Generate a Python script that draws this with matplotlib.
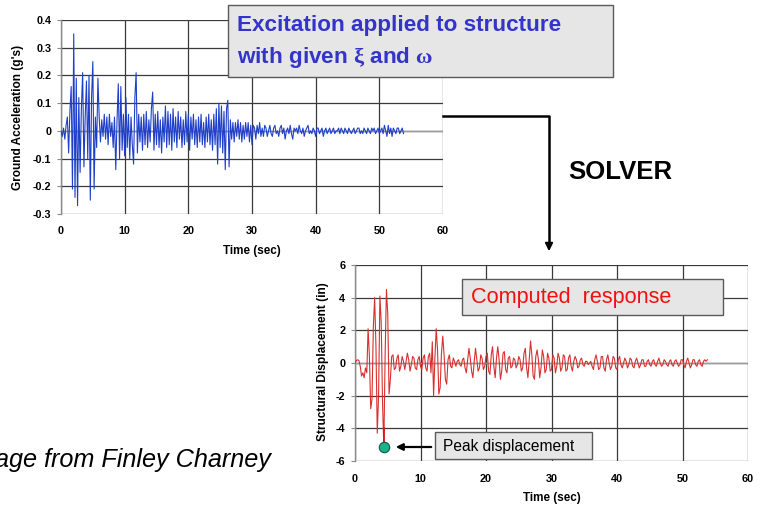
import numpy as np
import matplotlib
matplotlib.use("Agg")
import matplotlib.pyplot as plt
from matplotlib.patches import Rectangle, FancyArrowPatch
from matplotlib.lines import Line2D

plt.rcParams['font.family'] = ['Liberation Sans', 'DejaVu Sans']
plt.rcParams['axes.unicode_minus'] = False
plt.rcParams['mathtext.fontset'] = 'custom'
plt.rcParams['mathtext.rm'] = 'Liberation Serif:bold'
plt.rcParams['mathtext.it'] = 'Liberation Serif:italic'
plt.rcParams['mathtext.bf'] = 'Liberation Serif:bold'

# ---------------- data ----------------
accel_dt = 0.2   # s, samples from t=0 to 53.8
ground_accel = [
    0.0, -0.02, 0.01, -0.03, 0.02, 0.05, -0.08, 0.07, 0.16, -0.21,
    0.35, -0.24, 0.19, -0.27, 0.12, -0.15, 0.08, 0.21, -0.13, 0.05,
    0.18, -0.10, 0.20, -0.25, 0.12, 0.25, -0.21, 0.05, -0.06, 0.19,
    0.05, -0.04, 0.04, -0.02, 0.06, -0.03, 0.05, -0.05, 0.06, -0.02,
    0.03, -0.06, 0.05, -0.14, 0.04, 0.17, -0.10, 0.16, -0.07, 0.06,
    -0.09, 0.12, -0.06, 0.06, -0.10, 0.05, -0.05, -0.12, 0.12, 0.21,
    -0.08, 0.06, -0.04, 0.05, -0.07, 0.06, -0.05, 0.07, -0.06, 0.04,
    -0.04, 0.08, 0.14, -0.07, 0.06, -0.05, 0.07, -0.06, 0.04, -0.08,
    0.05, -0.04, 0.09, -0.06, 0.07, -0.05, 0.06, -0.07, 0.08, -0.04,
    0.05, -0.06, 0.07, -0.03, 0.05, -0.06, 0.04, -0.05, 0.07, -0.04,
    0.06, -0.07, 0.05, -0.03, 0.06, -0.05, 0.04, -0.06, 0.05, -0.04,
    0.06, -0.05, 0.03, -0.06, 0.05, -0.04, 0.06, -0.05, 0.04, -0.07,
    0.06, -0.05, 0.08, -0.12, 0.10, -0.06, 0.09, -0.08, 0.07, -0.14,
    0.08, 0.11, -0.13, 0.04, -0.03, 0.03, -0.04, 0.03, -0.02, 0.04,
    -0.03, 0.03, -0.04, 0.02, -0.03, 0.03, -0.02, 0.03, -0.04, 0.02,
    -0.05, 0.02, 0.01, -0.03, 0.02, -0.01, 0.03, -0.02, 0.01, -0.02,
    0.02, 0.01, -0.02, 0.0, 0.02, -0.01, -0.02, 0.01, 0.02, -0.01,
    0.0, -0.02, 0.01, 0.02, -0.01, 0.01, -0.03, 0.0, 0.01, -0.01,
    0.02, -0.01, -0.03, 0.01, 0.0, 0.01, -0.01, 0.02, 0.0, -0.01,
    0.01, -0.02, 0.0, 0.01, 0.02, -0.01, 0.0, -0.01, 0.01, 0.0,
    -0.02, 0.01, 0.01, -0.01, 0.0, 0.01, -0.02, 0.0, 0.01, -0.01,
    0.0, 0.01, -0.01, 0.0, 0.01, -0.01, 0.0, 0.0, 0.01, -0.01,
    0.01, 0.0, -0.01, 0.01, 0.0, -0.01, 0.01, 0.0, -0.01, 0.0,
    0.01, -0.01, 0.0, 0.01, 0.01, -0.01, 0.0, -0.01, 0.01, 0.0,
    -0.01, 0.01, 0.0, -0.01, 0.01, 0.0, 0.01, -0.01, 0.0, 0.01,
    -0.01, 0.0, 0.01, -0.01, 0.02, 0.0, -0.02, 0.02, -0.01, 0.01,
    -0.02, 0.01, 0.0, -0.01, 0.01, 0.01, -0.01, 0.0, 0.01, -0.01,
]

disp_dt = 0.2  # s, samples from t=0 to 53.8
displacement = [
    0.0, 0.15, 0.2, 0.15, -0.2, -0.8, -0.6, -0.9, -0.3, -0.6,
    2.1, 0.4, -2.8, -2.2, 2.2, 4.0, 1.0, -4.3, -2.0, 4.1,
    2.5, -2.4, -5.15, 0.5, 4.5, 3.0, -1.9, -1.0, 0.4, 0.5,
    -0.4, -0.3, 0.3, 0.5, -0.5, -0.2, 0.4, 0.1, -0.4, 0.1,
    0.6, 0.2, -0.5, -0.1, 0.4, 0.3, -0.3, -0.4, 0.2, 0.4,
    -0.2, -0.4, 0.3, 0.5, -0.3, -0.5, 0.4, 0.6, -0.6, 1.3,
    -2.0, 0.3, 2.1, 0.8, -1.9, -1.5, 0.6, 1.65, 0.5, -1.0,
    -1.3, 0.2, 0.5, -0.2, -0.3, 0.3, 0.1, -0.2, 0.1, 0.2,
    -0.1, -0.2, 0.2, 0.3, -0.3, -0.6, 0.2, 0.9, 0.3, -0.5,
    -0.9, 0.1, 0.9, 0.2, -0.5, -0.3, 0.5, 0.3, -0.4, -0.2,
    0.4, 0.6, -0.5, -0.7, 0.5, 1.0, -0.2, -0.9, 0.3, 1.0,
    0.2, -1.0, -0.5, 0.6, 0.7, -0.4, -0.6, 0.3, 0.4, -0.3,
    -0.2, 0.3, 0.2, -0.3, -0.1, 0.4, 0.2, -0.5, -0.3, 0.6,
    0.9, -0.3, -0.9, 0.2, 1.35, 0.5, -0.8, -1.0, 0.4, 0.8,
    0.2, -0.9, -0.3, 0.8, 0.4, -0.6, -0.4, 0.6, 0.3, -0.5,
    -0.4, 0.5, 0.3, -0.6, -0.2, 0.6, 0.3, -0.5, -0.3, 0.5,
    0.4, -0.5, -0.4, 0.3, 0.5, -0.2, -0.5, 0.1, 0.4, 0.2,
    -0.3, -0.2, 0.2, 0.3, -0.1, -0.2, 0.1, 0.1, -0.1, 0.0,
    0.1, -0.2, -0.4, 0.2, 0.5, 0.1, -0.4, -0.3, 0.4, 0.4,
    -0.3, -0.5, 0.2, 0.5, 0.0, -0.4, -0.2, 0.4, 0.3, -0.3,
    -0.4, 0.2, 0.4, -0.1, -0.3, 0.0, 0.3, 0.1, -0.3, -0.1,
    0.3, 0.2, -0.2, -0.3, 0.1, 0.3, 0.0, -0.3, -0.1, 0.2,
    0.2, -0.2, -0.2, 0.1, 0.2, -0.1, -0.2, 0.1, 0.2, -0.1,
    -0.2, 0.1, 0.3, 0.0, -0.2, -0.1, 0.2, 0.1, -0.1, -0.2,
    0.1, 0.2, -0.1, -0.2, 0.1, 0.2, 0.0, -0.2, -0.1, 0.2,
    0.2, -0.1, -0.3, 0.1, 0.3, 0.0, -0.3, -0.1, 0.2, 0.2,
    -0.1, -0.2, 0.1, 0.2, -0.1, -0.2, 0.1, 0.2, 0.1, 0.2,
]
peak_time = 4.4
peak_disp = -5.15

accel_yticks = [-0.3, -0.2, -0.1, 0, 0.1, 0.2, 0.3, 0.4]
accel_yticklabels = ['-0.3', '-0.2', '-0.1', '0', '0.1', '0.2', '0.3', '0.4']
disp_yticks = [-6, -4, -2, 0, 2, 4, 6]
time_ticks = [0, 10, 20, 30, 40, 50, 60]

# ---------------- figure ----------------
W, H = 765, 505
fig = plt.figure(figsize=(W / 100, H / 100), dpi=100)
fig.patch.set_facecolor('white')


def fx(px):
    return px / W


def fy(py):
    return 1 - py / H


def style_axes(ax, ylim, yticks, yticklabels=None):
    ax.set_xlim(0, 60)
    ax.set_ylim(*ylim)
    ax.set_xticks(time_ticks)
    ax.set_yticks(yticks)
    if yticklabels is not None:
        ax.set_yticklabels(yticklabels)
    ax.grid(True, color='#3a3a3a', lw=0.9)
    for s in ['top', 'right', 'bottom']:
        ax.spines[s].set_visible(False)
    ax.spines['left'].set_color('#8a8a8a')
    ax.spines['left'].set_linewidth(1.0)
    ax.tick_params(axis='x', length=0, pad=9, labelsize=7.8)
    ax.tick_params(axis='y', length=3, color='#8a8a8a', pad=4, labelsize=7.8)
    for lab in ax.get_xticklabels() + ax.get_yticklabels():
        lab.set_fontweight('bold')
    ax.axhline(0, color='#9a9a9a', lw=1.0, zorder=1.8)


# top axes: ground acceleration
ax1 = fig.add_axes([fx(61), fy(214), fx(443) - fx(61), fy(20) - fy(214)])
t_acc = np.arange(len(ground_accel)) * accel_dt
ax1.plot(t_acc, ground_accel, color='#1f3fc8', lw=0.8, zorder=3)
style_axes(ax1, (-0.3, 0.4), accel_yticks, accel_yticklabels)

# bottom axes: structural displacement
ax2 = fig.add_axes([fx(355), fy(461), fx(748) - fx(355), fy(265) - fy(461)])
t_disp = np.arange(len(displacement)) * disp_dt
ax2.plot(t_disp, displacement, color='#d83030', lw=0.8, zorder=3)
ax2.plot([peak_time, peak_time], [peak_disp, -4.0], color='#e01010', lw=1.2, zorder=3)
style_axes(ax2, (-6, 6), disp_yticks)
ax2.plot([peak_time], [peak_disp], 'o', ms=7.5, mfc='#19b38a', mec='#0b5a44',
         mew=0.8, zorder=5, clip_on=False)

# axis labels
fig.text(fx(18), fy(117), "Ground Acceleration (g's)", rotation=90, ha='center',
         va='center', fontsize=8.6, fontweight='bold')
fig.text(fx(252), fy(251), "Time (sec)", ha='center', va='center', fontsize=8.4,
         fontweight='bold')
fig.text(fx(323), fy(362), "Structural Displacement (in)", rotation=90, ha='center',
         va='center', fontsize=8.6, fontweight='bold')
fig.text(fx(552), fy(498), "Time (sec)", ha='center', va='center', fontsize=8.4,
         fontweight='bold')

# top callout box
fig.add_artist(Rectangle((fx(228), fy(77)), fx(613) - fx(228), fy(5) - fy(77),
                         transform=fig.transFigure, facecolor='#e6e6e6',
                         edgecolor='#5a5a5a', lw=1.0, zorder=5))
fig.text(fx(237), fy(25), "Excitation applied to structure", ha='left', va='center',
         fontsize=16.2, fontweight='bold', color='#3434c8', zorder=6)
fig.text(fx(237), fy(58), r"with given $\mathrm{\xi}$ and $\mathrm{\omega}$", ha='left',
         va='center', fontsize=16.2, fontweight='bold', color='#3434c8', zorder=6)

# connector and SOLVER
fig.add_artist(Line2D([fx(443), fx(549), fx(549)], [fy(116), fy(116), fy(243)],
                      transform=fig.transFigure, color='black', lw=1.8, zorder=5))
fig.add_artist(FancyArrowPatch((fx(549), fy(240)), (fx(549), fy(254)),
                               transform=fig.transFigure, arrowstyle='-|>',
                               mutation_scale=11, color='black', lw=1.5, zorder=5))
fig.text(fx(620), fy(172), "SOLVER", ha='center', va='center', fontsize=18.5,
         fontweight='bold', color='black')

# computed response box
fig.add_artist(Rectangle((fx(462), fy(315)), fx(723) - fx(462), fy(279) - fy(315),
                         transform=fig.transFigure, facecolor='#e6e6e6',
                         edgecolor='#5a5a5a', lw=1.0, zorder=5))
fig.text(fx(471), fy(297), "Computed  response", ha='left', va='center',
         fontsize=15.6, color='#f01010', zorder=6)

# peak displacement box
fig.add_artist(Rectangle((fx(435), fy(459)), fx(592) - fx(435), fy(432) - fy(459),
                         transform=fig.transFigure, facecolor='#e6e6e6',
                         edgecolor='#5a5a5a', lw=1.0, zorder=5))
fig.text(fx(443), fy(446), "Peak displacement", ha='left', va='center',
         fontsize=11.2, color='black', zorder=6)
fig.add_artist(FancyArrowPatch((fx(434), fy(447)), (fx(393), fy(447)),
                               transform=fig.transFigure, arrowstyle='-|>',
                               mutation_scale=10, color='black', lw=1.6, zorder=6))

# source credit (cut at the left edge, as in the reference slide crop)
fig.text(fx(271), fy(460), "Image from Finley Charney", ha='right', va='center',
         fontsize=18.2, style='italic', color='black')

fig.savefig('out.png', dpi=100, facecolor='white')
